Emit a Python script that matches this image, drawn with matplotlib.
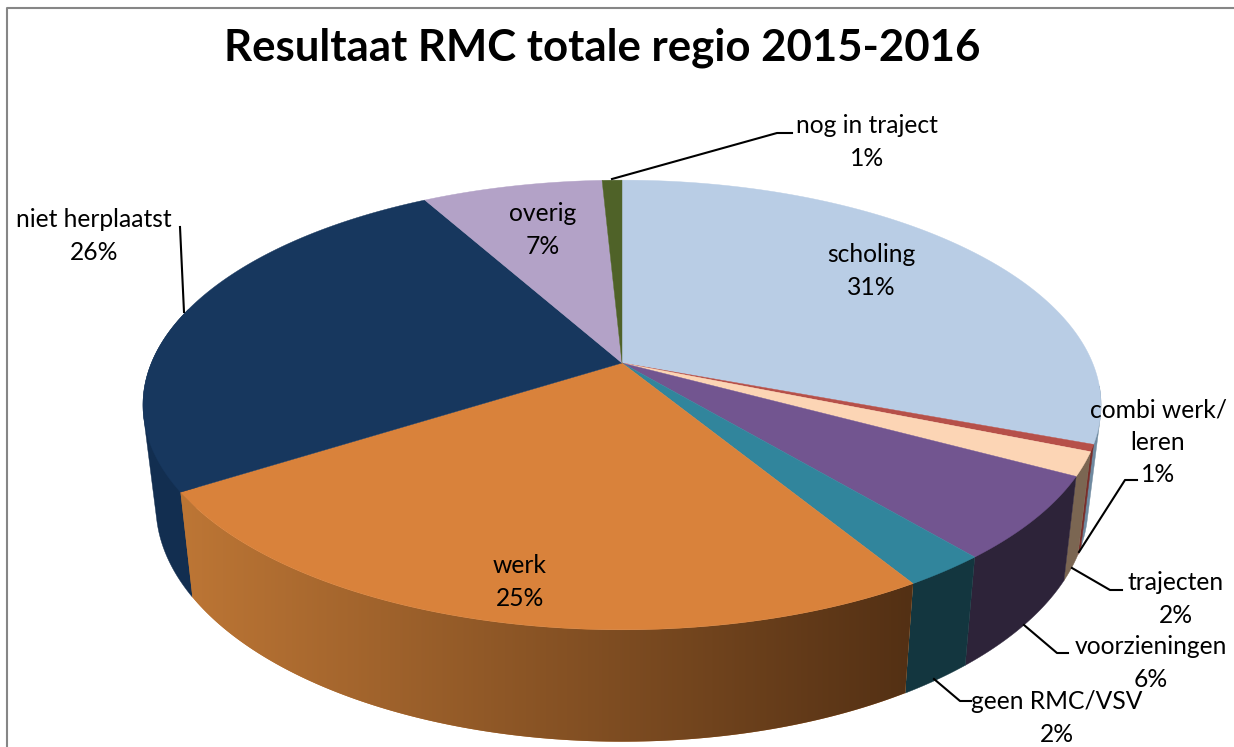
"""3D pie of RMC results, drawn as projected slices."""
import numpy as np
import matplotlib
matplotlib.use("Agg")
import matplotlib.pyplot as plt
from matplotlib.colors import to_rgb

title = "Resultaat RMC totale regio 2015-2016"

categories = ["scholing", "combi werk/\nleren", "trajecten", "voorzieningen", "geen RMC/VSV",
              "werk", "niet herplaatst", "overig", "nog in traject"]
values = [30.7, 0.5, 1.7, 6.0, 2.4, 24.7, 25.9, 7.3, 0.8]
pct_labels = ["31%", "1%", "2%", "6%", "2%", "25%", "26%", "7%", "1%"]

top_colors = ["#B9CDE5", "#B65049", "#FCD5B5", "#725590", "#31859C",
              "#D9823B", "#17375E", "#B3A2C7", "#4F6228"]
wall_left = ["#6F8AA0", "#7A2E2A", "#7B6652", "#2D2339", "#13363F",
             "#BD7635", "#122E50", "#5F5070", "#2C3A15"]
wall_right = ["#6F8AA0", "#7A2E2A", "#7B6652", "#2D2339", "#13363F",
              "#533014", "#122E50", "#5F5070", "#2C3A15"]

label_pos = [(871, 271), (1158, 442), (1176, 599), (1151, 663), (1057, 718),
             (520, 582), (94, 236), (543, 230), (867, 142)]
leaders = {
    1: [(1079, 552), (1125, 480), (1137, 480)],
    2: [(1072, 568), (1110, 590), (1122, 590)],
    3: [(1024, 625), (1057, 653), (1068, 653)],
    4: [(934, 679), (960, 701), (971, 701)],
    6: [(184, 312), (180, 227)],
    8: [(612, 179), (777, 133), (792, 133)],
}

# perspective circle: top face and bottom face of the disc
CX, CY = 622, 363
A, B, K = 470.6, 217.0, 0.1867
BOT_SX, BOT_SY, BOT_CY = 0.973, 1.05, 461.5
# only this part of the rim faces the viewer
WALL_FROM, WALL_TO = np.radians(96), np.radians(285)


def top_xy(theta):
    u, v = np.sin(theta), np.cos(theta)
    w = 1 + K * v
    return CX + A * u / w, CY - B * v / w


def bot_xy(theta):
    u, v = np.sin(theta), np.cos(theta)
    w = 1 + K * v
    return CX + BOT_SX * A * u / w, BOT_CY - BOT_SY * B * v / w


def hull(xs, ys):
    # monotone chain; the rim silhouette is not a plain band between two arcs
    pts = sorted(set(zip(xs.tolist(), ys.tolist())))

    def half(points):
        out = []
        for p in points:
            while len(out) > 1 and ((out[-1][0] - out[-2][0]) * (p[1] - out[-2][1])
                                    - (out[-1][1] - out[-2][1]) * (p[0] - out[-2][0])) <= 0:
                out.pop()
            out.append(p)
        return out[:-1]

    return zip(*(half(pts) + half(pts[::-1])))


plt.rcParams["font.family"] = ["Lato", "DejaVu Sans"]

fig = plt.figure(figsize=(12.34, 7.47), dpi=100)
ax = fig.add_axes([0, 0, 1, 1])
ax.axis("off")

ax.plot([6.5, 6.5, 1234], [747, 7.5, 7.5], color="#868686", lw=1.5, zorder=1)

edges = np.cumsum([0] + values) / sum(values) * 2 * np.pi
grad_x0 = top_xy(edges[6])[0]
grad_x1 = top_xy(edges[5])[0]

# side walls, the front ones on top
for i in range(len(values)):
    t0, t1 = max(edges[i], WALL_FROM), min(edges[i + 1], WALL_TO)
    if t0 >= t1:
        continue
    th = np.linspace(t0, t1, 120)
    xt, yt = top_xy(th)
    xb, yb = bot_xy(th)
    xs, ys = np.r_[xt, xb[::-1]], np.r_[yt, yb[::-1]]
    z = 2.5 - 0.1 * abs((t0 + t1) / 2 - np.pi)
    if wall_left[i] == wall_right[i]:
        hx, hy = hull(xs, ys)
        ax.fill(hx, hy, color=wall_left[i], lw=0.3, zorder=z)
    else:
        poly = ax.fill(xs, ys, color=wall_left[i], lw=0, zorder=z)[0]
        ramp = np.linspace(to_rgb(wall_left[i]), to_rgb(wall_right[i]), 256)[None, :, :]
        im = ax.imshow(ramp, extent=(grad_x0, grad_x1, 747, 0), aspect="auto",
                       interpolation="bilinear", zorder=z + 0.001)
        im.set_clip_path(poly)

# top face
for i in range(len(values)):
    th = np.linspace(edges[i], edges[i + 1], max(3, int(values[i] * 12)))
    xs, ys = top_xy(th)
    ax.fill(np.r_[CX, xs], np.r_[CY, ys], color=top_colors[i], lw=0.3, zorder=3)

for pts in leaders.values():
    ax.plot(*zip(*pts), color="black", lw=1.5, zorder=4, solid_joinstyle="round")

for name, pct, (x, y) in zip(categories, pct_labels, label_pos):
    ax.text(x, y, f"{name}\n{pct}", ha="center", va="center", fontsize=17.7,
            color="black", linespacing=1.5, zorder=5)

ax.text(602, 48, title, ha="center", va="center", fontsize=31.5, fontweight="bold",
        color="black", zorder=5)

ax.set_xlim(0, 1234)
ax.set_ylim(747, 0)

fig.savefig("out.png", dpi=100)
